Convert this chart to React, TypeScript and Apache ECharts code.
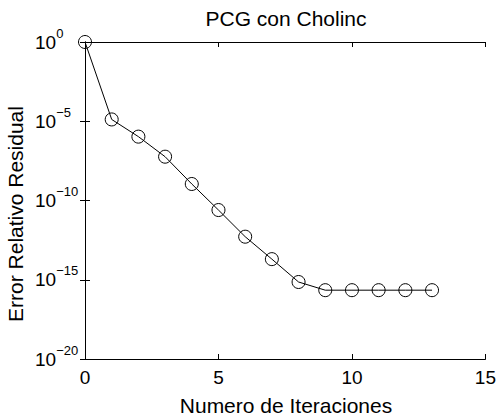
import React, { useEffect, useRef } from "react";
import * as echarts from "echarts";

const iterations = [0, 1, 2, 3, 4, 5, 6, 7, 8, 9, 10, 11, 12, 13];
const residuals = [1, 1.3e-5, 1.07e-6, 5.8e-8, 1.1e-9, 2.5e-11, 5.2e-13, 2.0e-14, 7.2e-16, 2.2e-16, 2.2e-16, 2.2e-16, 2.2e-16, 2.2e-16];
const xTicks = [0, 5, 10, 15];
const yTickExps = [0, -5, -10, -15, -20];
const titleText = "PCG con Cholinc";
const xLabel = "Numero de Iteraciones";
const yLabel = "Error Relativo Residual";

const FONT = "'Liberation Sans', Arial, Helvetica, sans-serif";

export default function App() {
  const ref = useRef<HTMLDivElement>(null);
  useEffect(() => {
    if (!ref.current) return;
    const chart = echarts.init(ref.current, null, { renderer: "svg" });
    const data = iterations.map((x, i) => [x, residuals[i]]);
    const supLabel = (v: number) => {
      const e = Math.round(Math.log10(v));
      const s = e < 0 ? "\u2212" + String(-e) : String(e);
      return "{b|10}{s|" + s + "}";
    };
    const axisLineStyle = { color: "#000", width: 1 };
    chart.setOption({
      animation: false,
      backgroundColor: "#fff",
      grid: { left: 85, right: 12, top: 42, bottom: 59, show: false },
      graphic: [
        {
          type: "text",
          x: 286,
          y: 18,
          style: { text: titleText, fontSize: 21, fontFamily: FONT, fill: "#000", textAlign: "center", textVerticalAlign: "middle" },
        },
        {
          type: "text",
          x: 286,
          y: 405,
          style: { text: xLabel, fontSize: 21, fontFamily: FONT, fill: "#000", textAlign: "center", textVerticalAlign: "middle" },
        },
        {
          type: "text",
          x: 15,
          y: 214,
          rotation: Math.PI / 2,
          style: { text: yLabel, fontSize: 21, fontFamily: FONT, fill: "#000", textAlign: "center", textVerticalAlign: "middle" },
        },
      ],
      xAxis: [
        {
          type: "value",
          min: xTicks[0],
          max: xTicks[xTicks.length - 1],
          interval: 5,
          position: "bottom",
          axisLine: { show: true, lineStyle: axisLineStyle },
          axisTick: { show: true, inside: true, length: 5, lineStyle: axisLineStyle },
          splitLine: { show: false },
          axisLabel: { fontSize: 19, fontFamily: FONT, color: "#000", margin: 9 },
        },
        {
          type: "value",
          min: xTicks[0],
          max: xTicks[xTicks.length - 1],
          interval: 5,
          position: "top",
          axisLine: { show: true, lineStyle: axisLineStyle },
          axisTick: { show: true, inside: true, length: 5, lineStyle: axisLineStyle },
          splitLine: { show: false },
          axisLabel: { show: false },
        },
      ],
      yAxis: [
        {
          type: "log",
          logBase: 10,
          min: Math.pow(10, yTickExps[yTickExps.length - 1]),
          max: Math.pow(10, yTickExps[0]),
          interval: 5,
          position: "left",
          axisLine: { show: true, lineStyle: axisLineStyle },
          axisTick: { show: true, inside: true, length: 5, lineStyle: axisLineStyle },
          minorTick: { show: false },
          splitLine: { show: false },
          axisLabel: {
            align: "left",
            margin: 50,
            formatter: supLabel,
            rich: {
              b: { fontSize: 19, fontFamily: FONT, color: "#000", verticalAlign: "middle" },
              s: { fontSize: 13, fontFamily: FONT, color: "#000", padding: [0, 0, 18, 0], verticalAlign: "middle" },
            },
          },
        },
        {
          type: "log",
          logBase: 10,
          min: Math.pow(10, yTickExps[yTickExps.length - 1]),
          max: Math.pow(10, yTickExps[0]),
          interval: 5,
          position: "right",
          axisLine: { show: true, lineStyle: axisLineStyle },
          axisTick: { show: true, inside: true, length: 5, lineStyle: axisLineStyle },
          splitLine: { show: false },
          axisLabel: { show: false },
        },
      ],
      series: [
        {
          type: "line",
          data,
          xAxisIndex: 0,
          yAxisIndex: 0,
          symbol: "circle",
          symbolSize: 13,
          lineStyle: { color: "#000", width: 1 },
          itemStyle: { color: "rgba(0,0,0,0)", borderColor: "#000", borderWidth: 1 },
        },
      ],
    });
    return () => chart.dispose();
  }, []);
  return <div ref={ref} style={{ position: "absolute", left: 0, top: 0, width: 499, height: 418 }} />;
}
